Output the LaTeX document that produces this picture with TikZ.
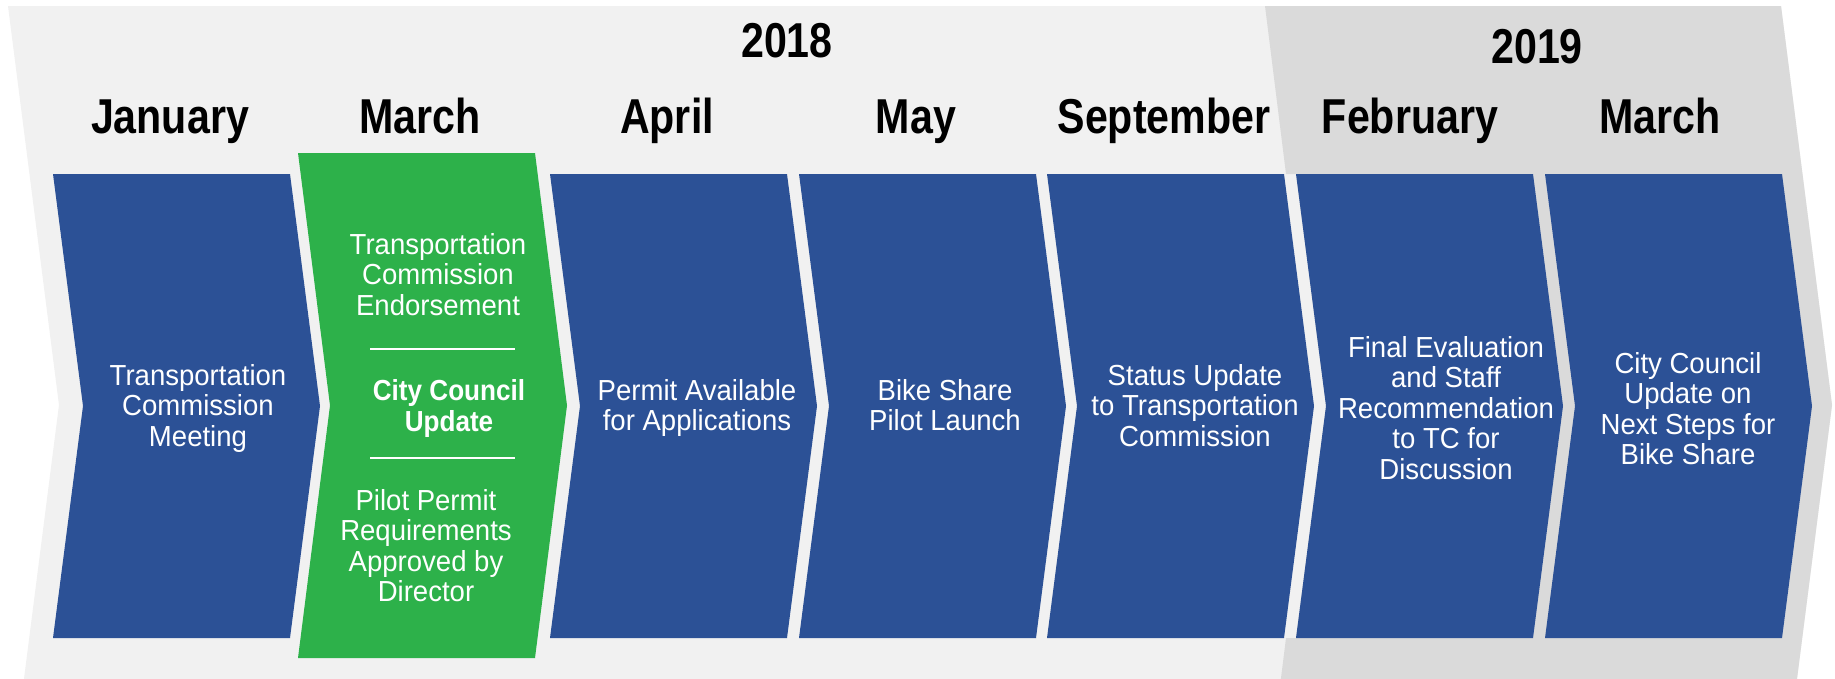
\documentclass[tikz,border=0pt]{standalone}
\usepackage{fontspec}
\setmainfont{Liberation Sans}
\newfontfamily\headfont[FakeStretch=0.84]{Liberation Sans}
\newfontfamily\boxfont[FakeStretch=0.95]{Liberation Sans}
\newfontfamily\boxboldfont[FakeStretch=0.9]{Liberation Sans}
\definecolor{bgeighteen}{HTML}{F1F1F1}
\definecolor{bgnineteen}{HTML}{DADADA}
\definecolor{boxblue}{HTML}{2C5196}
\definecolor{boxgreen}{HTML}{2DB14A}
\tikzset{
  monthlbl/.style={font=\headfont\bfseries\fontsize{49}{52}\selectfont, anchor=base, inner sep=0pt, text=black},
  yearlbl/.style={font=\headfont\bfseries\fontsize{49}{52}\selectfont, anchor=base, inner sep=0pt, text=black},
  boxtxt/.style={text=white, align=center, anchor=north, inner sep=0pt, font=\boxfont\fontsize{29}{30.5}\selectfont},
  boxbold/.style={text=white, align=center, anchor=north, inner sep=0pt, font=\boxboldfont\bfseries\fontsize{29}{31.5}\selectfont},
  sepline/.style={draw=white, line width=1.5pt},
}
\begin{document}
\begin{tikzpicture}[x=1pt,y=-1pt]
\useasboundingbox (0,0) rectangle (1835,678);
\fill[white] (0,0) rectangle (1835,678);
\begin{scope}
\clip (0,0) rectangle (1835,678);
% 2018 background chevron
\fill[bgeighteen] (8,6) -- (1781,6) -- (1832,405) -- (1781,804) -- (8,804) -- (59,405) -- cycle;
% 2019 region
\fill[bgnineteen] (1265,6) -- (1781,6) -- (1832,405) -- (1781,804) -- (1265,804) -- (1281,678)
   -- (1286,638) -- (1296,638) -- (1326,406) -- (1296,174) -- (1286,174) -- cycle;
\end{scope}

% boxes
\fill[boxblue] (53,174) -- (290,174) -- (320,406) -- (290,638) -- (53,638) -- (83,406) -- cycle;
\fill[boxgreen] (298,153) -- (535,153) -- (567,405.5) -- (535,658) -- (298,658) -- (330,405.5) -- cycle;
\fill[boxblue] (550,174) -- (787,174) -- (817,406) -- (787,638) -- (550,638) -- (580,406) -- cycle;
\fill[boxblue] (799,174) -- (1036,174) -- (1066,406) -- (1036,638) -- (799,638) -- (829,406) -- cycle;
\fill[boxblue] (1047,174) -- (1284,174) -- (1314,406) -- (1284,638) -- (1047,638) -- (1077,406) -- cycle;
\fill[boxblue] (1296,174) -- (1533,174) -- (1563,406) -- (1533,638) -- (1296,638) -- (1326,406) -- cycle;
\fill[boxblue] (1545,174) -- (1782,174) -- (1812,406) -- (1782,638) -- (1545,638) -- (1575,406) -- cycle;

% years
\node[yearlbl] (y2018) at (787,57) {2018};
\node[yearlbl] (y2019) at (1537,63) {2019};

% months
\node[monthlbl] (mjan) at (170,133) {January};
\node[monthlbl] (mmar) at (420,133) {March};
\node[monthlbl] (mapr) at (667,133) {April};
\node[monthlbl] (mmay) at (916,133) {May};
\node[monthlbl] (msep) at (1164,133) {September};
\node[monthlbl] (mfeb) at (1410,133) {February};
\node[monthlbl] (mmarb) at (1660,133) {March};

% box texts
\node[boxtxt] (tjan) at (198,364) {Transportation\\Commission\\Meeting};
\node[boxtxt] (tgreena) at (438,233) {Transportation\\Commission\\Endorsement};
\coordinate (sepAl) at (370,349);
\coordinate (sepAr) at (515,349);
\draw[sepline] (sepAl) -- (sepAr);
\node[boxbold] (tgreenb) at (449,379) {City Council\\Update};
\coordinate (sepBl) at (370,458);
\coordinate (sepBr) at (515,458);
\draw[sepline] (sepBl) -- (sepBr);
\node[boxtxt] (tgreenc) at (426,489) {Pilot Permit\\Requirements\\Approved by\\Director};
\node[boxtxt] (tapr) at (697,379) {Permit Available\\for Applications};
\node[boxtxt] (tmay) at (945,379) {Bike Share\\Pilot Launch};
\node[boxtxt] (tsep) at (1195,364) {Status Update\\to Transportation\\Commission};
\node[boxtxt] (tfeb) at (1446,336) {Final Evaluation\\and Staff\\Recommendation\\to TC for\\Discussion};
\node[boxtxt] (tmarb) at (1688,352) {City Council\\Update on\\Next Steps for\\Bike Share};
\end{tikzpicture}
\end{document}
